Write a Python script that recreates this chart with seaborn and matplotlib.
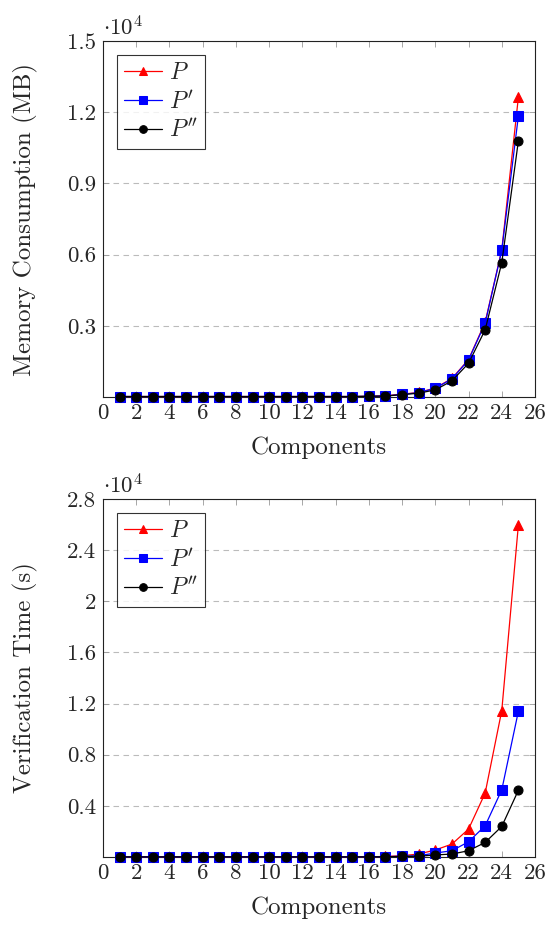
import matplotlib
matplotlib.use("Agg")
import matplotlib.pyplot as plt
import seaborn as sns

# components on the x axis
components = list(range(1, 26))

# memory consumption, in units of 10^4 MB
mem_p = [0.002, 0.002, 0.002, 0.002, 0.002, 0.002, 0.002, 0.002, 0.002, 0.002,
         0.002, 0.002, 0.002, 0.002, 0.002, 0.003, 0.005, 0.012, 0.019, 0.038,
         0.078, 0.158, 0.315, 0.620, 1.263]
mem_p1 = [0.002, 0.002, 0.002, 0.002, 0.002, 0.002, 0.002, 0.002, 0.002, 0.002,
          0.002, 0.002, 0.002, 0.002, 0.002, 0.003, 0.004, 0.011, 0.018, 0.037,
          0.076, 0.156, 0.311, 0.618, 1.184]
mem_p2 = [0.002, 0.002, 0.002, 0.002, 0.002, 0.002, 0.002, 0.002, 0.002, 0.002,
          0.002, 0.002, 0.002, 0.002, 0.002, 0.003, 0.004, 0.010, 0.016, 0.030,
          0.068, 0.142, 0.283, 0.566, 1.079]

# verification time, in units of 10^4 s
ver_p = [0.001, 0.001, 0.001, 0.001, 0.001, 0.001, 0.001, 0.001, 0.001, 0.001,
         0.001, 0.001, 0.001, 0.001, 0.001, 0.002, 0.004, 0.010, 0.023, 0.055,
         0.101, 0.218, 0.500, 1.145, 2.597]
ver_p1 = [0.001, 0.001, 0.001, 0.001, 0.001, 0.001, 0.001, 0.001, 0.001, 0.001,
          0.001, 0.001, 0.001, 0.001, 0.001, 0.002, 0.003, 0.006, 0.010, 0.031,
          0.049, 0.119, 0.244, 0.525, 1.140]
ver_p2 = [0.001, 0.001, 0.001, 0.001, 0.001, 0.001, 0.001, 0.001, 0.001, 0.001,
          0.001, 0.001, 0.001, 0.001, 0.001, 0.001, 0.002, 0.004, 0.006, 0.016,
          0.023, 0.049, 0.114, 0.239, 0.522]

series_labels = ["$P$", "$P'$", "$P''$"]
x_ticks = list(range(0, 27, 2))
mem_ticks = [0.3, 0.6, 0.9, 1.2, 1.5]
ver_ticks = [0.4, 0.8, 1.2, 1.6, 2.0, 2.4, 2.8]

sns.set_style("ticks")
plt.rcParams["font.family"] = ["cmr10", "DejaVu Serif"]
plt.rcParams["mathtext.fontset"] = "cm"
plt.rcParams["axes.formatter.use_mathtext"] = True

COLORS = ["#ff0000", "#0000ff", "#000000"]
MARKERS = ["^", "s", "o"]
TICK_FS = 16.5
LABEL_FS = 18
LEG_FS = 17

fig = plt.figure(figsize=(5.5, 9.27), dpi=100)
W, H = 550, 927
ax_top = fig.add_axes([103 / W, 1 - 397 / H, 432 / W, 356 / H])
ax_bot = fig.add_axes([103 / W, 1 - 857 / H, 432 / W, 358 / H])


def draw_panel(ax, series, ticks, ymax, ylabel, height_px):
    for vals, label, color, marker in zip(series, series_labels, COLORS, MARKERS):
        sns.lineplot(x=components, y=vals, ax=ax, color=color, marker=marker,
                     markersize=6.5 if marker != "^" else 7, markeredgecolor=color,
                     markerfacecolor=color, linewidth=0.9, label=label,
                     clip_on=False, zorder=3)
    ax.set_xlim(0, 26)
    ax.set_ylim(0, ymax)
    ax.set_xticks(x_ticks)
    ax.set_xticklabels([str(t) for t in x_ticks], fontsize=TICK_FS)
    ax.set_yticks(ticks)
    ax.set_yticklabels([f"{t:g}" for t in ticks], fontsize=TICK_FS)
    ax.tick_params(direction="in", top=True, right=True, length=4, width=0.6,
                   color="#999999", pad=5)
    ax.yaxis.grid(True, linestyle=(0, (5, 4)), color="#bbbbbb", linewidth=0.8)
    ax.set_axisbelow(True)
    for spine in ax.spines.values():
        spine.set_visible(True)
        spine.set_linewidth(0.8)
        spine.set_edgecolor("#222222")
    ax.set_xlabel("Components", fontsize=LABEL_FS)
    ax.set_ylabel(ylabel, fontsize=LABEL_FS)
    ax.xaxis.set_label_coords(0.5, -51 / height_px)
    ax.xaxis.label.set_va("center")
    ax.yaxis.set_label_coords(-78 / 432, 0.5)
    ax.yaxis.label.set_va("center")
    ax.text(0.0, 1.005, r"$\cdot 10^4$", transform=ax.transAxes, fontsize=TICK_FS,
            ha="left", va="bottom")
    leg = ax.legend(loc="upper left", fontsize=LEG_FS, frameon=True, fancybox=False,
                    edgecolor="black", borderpad=0.3, handlelength=1.6,
                    handletextpad=0.3, labelspacing=0.25, borderaxespad=0.6,
                    markerscale=0.85)
    leg.get_frame().set_linewidth(0.8)


draw_panel(ax_top, [mem_p, mem_p1, mem_p2], mem_ticks, 1.5,
           "Memory Consumption (MB)", 356)
draw_panel(ax_bot, [ver_p, ver_p1, ver_p2], ver_ticks, 2.8,
           "Verification Time (s)", 358)

fig.savefig("out.png", dpi=100)
plt.close(fig)
